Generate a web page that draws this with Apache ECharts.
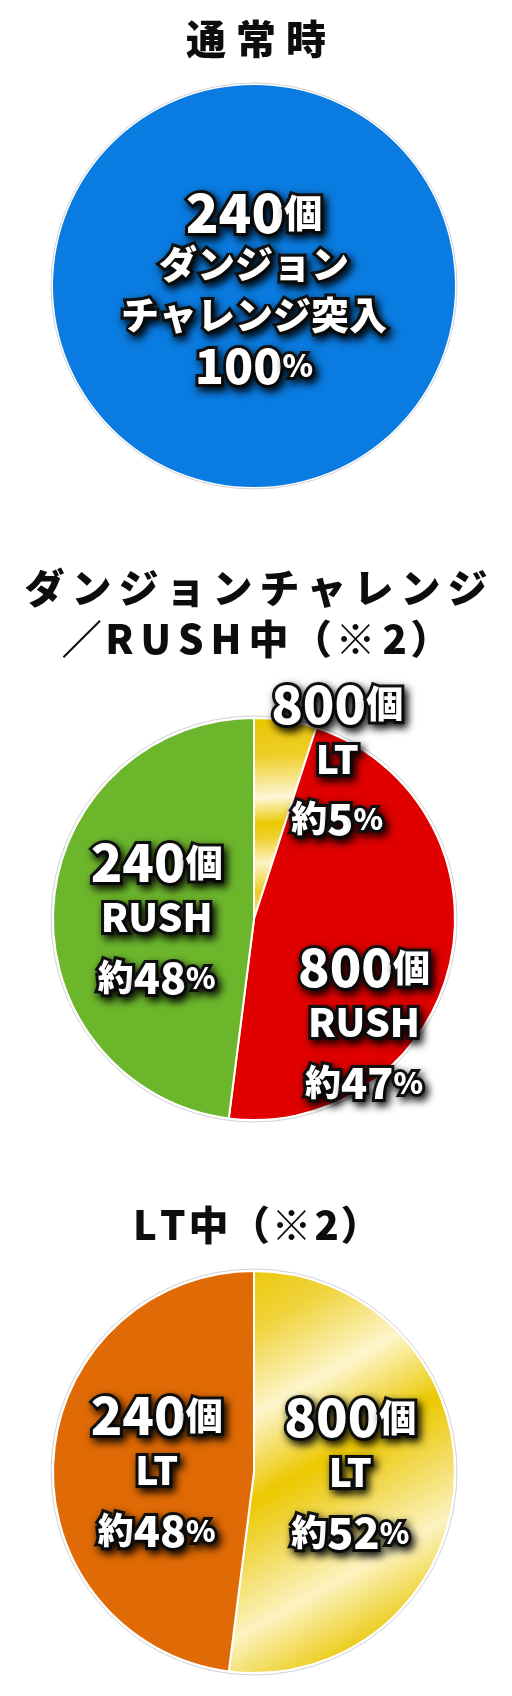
<!DOCTYPE html>
<html>
<head>
<meta charset="utf-8">
<script src="https://cdn.jsdelivr.net/npm/echarts@6/dist/echarts.min.js"></script>
<style>
  html, body { margin: 0; padding: 0; background: #ffffff; }
  #chart { width: 512px; height: 1696px; }
</style>
</head>
<body>
<div id="chart"></div>
<script>
// ---- data ----
const titleTexts = ['通常時', 'ダンジョンチャレンジ\n／RUSH中（※2）', 'LT中（※2）'];

const pie1Counts = ['240'];
const pie1Types = ['ダンジョン\nチャレンジ突入'];
const pie1Values = [100];

const pie2Counts = ['800', '800', '240'];
const pie2Types = ['LT', 'RUSH', 'RUSH'];
const pie2Values = [5, 47, 48];

const pie3Counts = ['800', '240'];
const pie3Types = ['LT', 'LT'];
const pie3Values = [52, 48];

// ---- styles ----
const FONT = '"Noto Sans CJK JP", "Noto Sans", sans-serif';
const fx = {
  color: '#ffffff', fontFamily: FONT, fontWeight: 900,
  textBorderColor: '#111111', textBorderWidth: 6,
  textShadowColor: 'rgba(0,0,0,0.85)', textShadowBlur: 8,
  textShadowOffsetX: 3, textShadowOffsetY: 4
};
function rs(size, lh, extra) { return Object.assign({}, fx, { fontSize: size, lineHeight: lh }, extra || {}); }

const PUNCT = '（）／';
function spaced(str) {
  return str.split('\n').map(line => Array.from(line).map(c =>
    (PUNCT.indexOf(c) >= 0 ? '{k|' : '{s|') + c + '}').join('')).join('\n');
}
function titleRich(pad) {
  const base = { fontSize: 40, fontWeight: 900, fontFamily: FONT, color: '#0d0d0d', lineHeight: 51 };
  return {
    s: Object.assign({}, base, { padding: [0, pad] }),
    k: Object.assign({}, base, { padding: [0, 0] })
  };
}

const gold2 = {
  type: 'linear', x: 0, y: 0, x2: 0.2, y2: 1,
  colorStops: [
    { offset: 0, color: '#eac600' }, { offset: 0.2, color: '#eecf2a' },
    { offset: 0.4, color: '#fdf7d6' }, { offset: 0.53, color: '#ebc800' },
    { offset: 0.6, color: '#efd232' }, { offset: 0.72, color: '#fcf3c4' },
    { offset: 0.86, color: '#eccd22' }, { offset: 1, color: '#f6e48a' }
  ]
};
const gold3 = {
  type: 'linear', x: 0, y: 0, x2: 1, y2: 1,
  colorStops: [
    { offset: 0, color: '#eac600' }, { offset: 0.14, color: '#f0d33c' },
    { offset: 0.3, color: '#fdf6cc' }, { offset: 0.46, color: '#ebc800' },
    { offset: 0.56, color: '#f1d84e' }, { offset: 0.7, color: '#fcf3c0' },
    { offset: 0.84, color: '#edcd1e' }, { offset: 1, color: '#f9ecaa' }
  ]
};

const bigRich = {
  n: rs(52, 54), u: rs(37, 54), t: rs(39, 56),
  y: rs(36, 64), p: rs(43, 64), q: rs(30, 64)
};

function ringSeries(cy) {
  return {
    type: 'pie', center: [254, cy], radius: [0, 203], silent: true, z: 1,
    label: { show: false }, labelLine: { show: false }, emphasis: { disabled: true },
    itemStyle: { color: '#ffffff', borderColor: '#d2d2d2', borderWidth: 1 },
    data: [{ value: 1, name: 'ring' }]
  };
}

function mkData(counts, types, values, colors, offsets) {
  return values.map((v, i) => ({
    value: v, name: counts[i] + '個 ' + types[i],
    itemStyle: { color: colors[i] },
    label: { offset: offsets[i] }
  }));
}

const chart = echarts.init(document.getElementById('chart'), null, { renderer: 'canvas' });
chart.setOption({
  animation: false,
  backgroundColor: '#ffffff',
  title: [
    { text: spaced(titleTexts[0]), left: 'center', top: 13, padding: 0, textStyle: { rich: titleRich(5) } },
    { text: spaced(titleTexts[1]), left: 'center', top: 562, padding: 0, textStyle: { rich: titleRich(3.5) } },
    { text: spaced(titleTexts[2]), left: 'center', top: 1199, padding: 0, textStyle: { rich: titleRich(1.5) } }
  ],
  series: [
    ringSeries(286), ringSeries(919), ringSeries(1472),
    {
      type: 'pie', center: [254, 286], radius: [0, 201], startAngle: 90, z: 2,
      emphasis: { disabled: true }, labelLine: { show: false },
      itemStyle: { borderColor: '#ffffff', borderWidth: 0 },
      label: {
        show: true, position: 'center',
        formatter: p => `{n|${pie1Counts[p.dataIndex]}}{u|個}\n` +
          pie1Types[p.dataIndex].split('\n').map(s => `{t|${s}}`).join('\n') +
          `\n{p|${p.value}}{q|%}`,
        rich: { n: rs(54, 51), u: rs(38, 51), t: rs(38, 51), p: rs(48, 51), q: rs(31, 51) },
        offset: [0, 3]
      },
      data: mkData(pie1Counts, pie1Types, pie1Values, ['#0a7be0'], [[0, 3]])
    },
    {
      type: 'pie', center: [254, 919], radius: [0, 201], startAngle: 90, clockwise: true, z: 2,
      avoidLabelOverlap: false, emphasis: { disabled: true }, labelLine: { show: false },
      itemStyle: { borderColor: '#ffffff', borderWidth: 2 },
      label: {
        show: true, position: 'inside',
        formatter: p => `{n|${pie2Counts[p.dataIndex]}}{u|個}\n{t|${pie2Types[p.dataIndex]}}\n{y|約}{p|${p.value}}{q|%}`,
        rich: bigRich
      },
      data: mkData(pie2Counts, pie2Types, pie2Values, [gold2, '#e00000', '#6cb62c'],
        [[67, -53], [9, 86], [6, 10]])
    },
    {
      type: 'pie', center: [254, 1472], radius: [0, 201], startAngle: 90, clockwise: true, z: 2,
      avoidLabelOverlap: false, emphasis: { disabled: true }, labelLine: { show: false },
      itemStyle: { borderColor: '#ffffff', borderWidth: 2 },
      label: {
        show: true, position: 'inside',
        formatter: p => `{n|${pie3Counts[p.dataIndex]}}{u|個}\n{t|${pie3Types[p.dataIndex]}}\n{y|約}{p|${p.value}}{q|%}`,
        rich: bigRich
      },
      data: mkData(pie3Counts, pie3Types, pie3Values, [gold3, '#e06a05'], [[-7, -1], [6, 10]])
    }
  ]
});
</script>
</body>
</html>
